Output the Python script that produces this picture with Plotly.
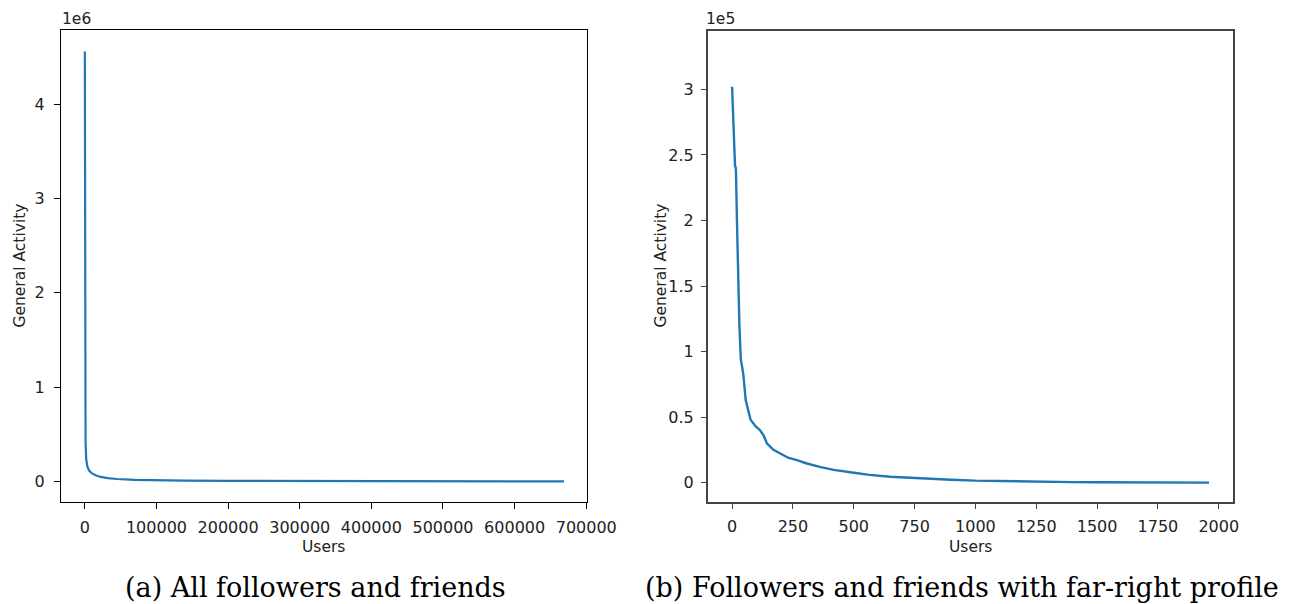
import plotly.graph_objects as go

# ---- data (a) all followers and friends ----
users_a = [0, 10, 50, 150, 400, 1000, 2000, 3500, 6000, 10000, 15000, 22000, 32000,
           45000, 70000, 100000, 140000, 200000, 300000, 400000, 500000, 600000, 668900]
activity_a = [4560000, 3000000, 1800000, 1100000, 700000, 420000, 230000, 160000, 115000,
              85000, 66000, 48000, 35000, 26000, 18000, 13000, 10000, 7000, 4000, 2500,
              1500, 800, 100]

# ---- data (b) far-right profile ----
users_b = [0, 4, 8, 12, 15, 16, 20, 23, 27, 30, 36, 46, 56, 66, 76, 96, 115, 130, 143,
           170, 200, 230, 270, 304, 360, 418, 500, 565, 650, 766, 900, 1000, 1100, 1250,
           1400, 1500, 1750, 1960]
activity_b = [302000, 275000, 255000, 242000, 240000, 237000, 200000, 175000, 137000,
              120000, 94000, 83000, 63000, 55000, 48000, 43000, 40000, 36000, 30000,
              25000, 22000, 19000, 17000, 14800, 12000, 9700, 7500, 5900, 4500, 3300,
              2200, 1500, 1100, 700, 400, 300, 100, 0]

# ---- ticks ----
xticks_a = [0, 100000, 200000, 300000, 400000, 500000, 600000, 700000]
xticklabels_a = ["0", "100000", "200000", "300000", "400000", "500000", "600000", "700000"]
yticks_a = [0, 1, 2, 3, 4]
yticklabels_a = ["0", "1", "2", "3", "4"]
yscale_a = 1e6
xticks_b = [0, 250, 500, 750, 1000, 1250, 1500, 1750, 2000]
xticklabels_b = ["0", "250", "500", "750", "1000", "1250", "1500", "1750", "2000"]
yticks_b = [0, 0.5, 1, 1.5, 2, 2.5, 3]
yticklabels_b = ["0", "0.5", "1", "1.5", "2", "2.5", "3"]
yscale_b = 1e5

caption_a = "(a) All followers and friends"
caption_b = "(b) Followers and friends with far-right profile"

W, H = 1313, 604
BLUE = "#1f77b4"

def px(x):
    return x / W

def py(y):
    return 1 - y / H

fig = go.Figure()
fig.add_trace(go.Scatter(x=users_a, y=activity_a, mode="lines",
                         line=dict(color=BLUE, width=2.2), xaxis="x", yaxis="y",
                         showlegend=False))
fig.add_trace(go.Scatter(x=users_b, y=activity_b, mode="lines",
                         line=dict(color=BLUE, width=2.4, shape="linear"),
                         xaxis="x2", yaxis="y2", showlegend=False))

tickfont = dict(family="DejaVu Sans", size=16, color="#222")
common = dict(showgrid=False, zeroline=False, showline=True, mirror=True,
              ticks="outside", tickwidth=1, tickfont=tickfont,
              tickmode="array")

fig.update_layout(
    width=W, height=H, autosize=False, margin=dict(l=0, r=0, t=0, b=0, pad=0),
    paper_bgcolor="white", plot_bgcolor="white",
    xaxis=dict(domain=[px(62.3), px(600.7)], range=[-33450, 701000],
               tickvals=xticks_a, ticktext=xticklabels_a, anchor="y",
               linecolor="black", tickcolor="black", ticklen=6,
               ticklabelstandoff=4, **common),
    yaxis=dict(domain=[py(502.3), py(30.3)], range=[-0.2208e6, 4.784e6],
               tickvals=[v * yscale_a for v in yticks_a], ticktext=yticklabels_a,
               anchor="x", linecolor="black", tickcolor="black", ticklen=6,
               ticklabelstandoff=6, **common),
    xaxis2=dict(domain=[px(724.3), px(1261.7)], range=[-100, 2058],
                tickvals=xticks_b, ticktext=xticklabels_b, anchor="y2",
                linecolor="#444", linewidth=1.6, tickcolor="#444", ticklen=5,
                ticklabelstandoff=4, **common),
    yaxis2=dict(domain=[py(502.3), py(30.7)], range=[-0.15e5, 3.448e5],
                tickvals=[v * yscale_b for v in yticks_b], ticktext=yticklabels_b,
                anchor="x2", linecolor="#444", linewidth=1.6, tickcolor="#444",
                ticklen=5, ticklabelstandoff=4, **common),
)

label_font = dict(family="DejaVu Sans", size=15.5, color="#222")
cap_font = dict(family="DejaVu Serif", size=27, color="black")
annots = [
    dict(x=px(78), y=py(19), text="1e6", font=label_font),
    dict(x=px(737), y=py(19), text="1e5", font=label_font),
    dict(x=px(331), y=py(547), text="Users", font=label_font),
    dict(x=px(993), y=py(547), text="Users", font=label_font),
    dict(x=px(20), y=py(266), text="General Activity", font=label_font, textangle=-90),
    dict(x=px(676), y=py(266), text="General Activity", font=label_font, textangle=-90),
    dict(x=px(323), y=py(587), text=caption_a, font=cap_font),
    dict(x=px(985), y=py(587), text=caption_b, font=cap_font),
]
for a in annots:
    fig.add_annotation(xref="paper", yref="paper", showarrow=False,
                       xanchor="center", yanchor="middle", **a)

fig.write_html(
    "out.html",
    config={"displayModeBar": False, "responsive": False},
    post_script=(
        "document.body.style.margin='0';"
        "document.body.style.overflow='hidden';"
        "var gd=document.getElementById('{plot_id}');"
        "gd.style.width='1313px';gd.style.height='604px';"
        "Plotly.relayout(gd,{width:1313,height:604});"
    ),
)
